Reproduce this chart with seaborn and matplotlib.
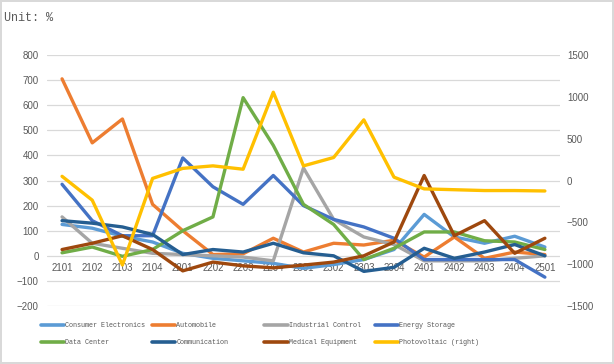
import pandas as pd
import seaborn as sns
import matplotlib.pyplot as plt
from matplotlib.lines import Line2D

# Data
quarters = ['2101', '2102', '2103', '2104', '2201', '2202', '2203', '2204', '2301',
            '2302', '2303', '2304', '2401', '2402', '2403', '2404', '2501']
consumer = [125, 110, 78, 55, 10, -10, -20, -30, -50, -35, -15, 25, 165, 75, 50, 78, 35]
automobile = [705, 450, 545, 205, 100, 5, 8, 70, 15, 50, 43, 62, -5, 75, -10, 15, 5]
industrial = [155, 50, 30, 10, 5, 0, -5, -20, 350, 145, 75, 45, -20, -20, -20, -10, 0]
energy = [285, 140, 80, 80, 390, 275, 205, 320, 200, 145, 115, 70, -15, -15, -15, -15, -85]
datacenter = [12, 35, -2, 25, 100, 155, 630, 440, 205, 125, -15, 30, 95, 95, 60, 55, 25]
communication = [140, 130, 115, 85, 5, 25, 15, 50, 12, 0, -62, -46, 30, -10, 15, 45, 0]
medical = [25, 50, 80, 25, -60, -25, -40, -48, -37, -25, 0, 55, 320, 80, 140, 10, 70]
photovoltaic = [50, -235, -1010, 25, 145, 175, 135, 1055, 175, 275, 725, 40, -100, -110, -120, -120, -125]

left_names = ['Consumer Electronics', 'Automobile', 'Industrial Control', 'Energy Storage',
              'Data Center', 'Communication', 'Medical Equipment']
left_values = [consumer, automobile, industrial, energy, datacenter, communication, medical]
colors = ['#5B9BD5', '#ED7D31', '#A5A5A5', '#4472C4', '#70AD47', '#255E91', '#9E480E']
pv_color = '#FFC000'

rows = []
for name, vals in zip(left_names, left_values):
    for i, v in enumerate(vals):
        rows.append({'idx': i, 'value': v, 'series': name})
df = pd.DataFrame(rows)
df_pv = pd.DataFrame({'idx': range(len(quarters)), 'value': photovoltaic})

sns.set_theme(style='white')
plt.rcParams['font.family'] = ['Liberation Sans', 'DejaVu Sans']
tick_color = '#595959'
mono = ['Liberation Mono', 'DejaVu Sans Mono']

fig = plt.figure(figsize=(6.14, 3.64), dpi=100)
fig.patch.set_edgecolor('#D9D9D9')
fig.patch.set_linewidth(1.5)
ax = fig.add_axes([0.0765, 0.1593, 0.8355, 0.6896])

sns.lineplot(data=df, x='idx', y='value', hue='series', hue_order=left_names,
             palette=dict(zip(left_names, colors)), linewidth=2.4, sort=False,
             legend=False, ax=ax)

ax.set_xlim(-0.5, len(quarters) - 0.5)
ax.set_ylim(-200, 800)
ax.set_yticks(range(-200, 801, 100))
ax.yaxis.grid(True, color='#D9D9D9', linewidth=0.9)
ax.set_axisbelow(True)
ax.set_xticks(range(len(quarters)))
ax.set_xticklabels(quarters)
ax.set_xlabel('')
ax.set_ylabel('')
for s in ['top', 'right', 'left']:
    ax.spines[s].set_visible(False)
ax.spines['bottom'].set_position(('data', 0))
ax.spines['bottom'].set_color('none')
ax.tick_params(axis='both', length=0, labelsize=7, colors=tick_color)
ax.tick_params(axis='y', pad=6)
ax.tick_params(axis='x', pad=5)

ax2 = ax.twinx()
sns.lineplot(data=df_pv, x='idx', y='value', color=pv_color, linewidth=2.4,
             sort=False, ax=ax2)
ax2.set_ylim(-1500, 1500)
ax2.set_yticks(range(-1500, 1501, 500))
ax2.grid(False)
ax2.set_ylabel('')
for s in ax2.spines.values():
    s.set_visible(False)
ax2.tick_params(axis='y', length=0, labelsize=7, colors=tick_color, pad=5)

fig.text(0.006, 0.95, 'Unit: %', va='center', ha='left', fontsize=8.5,
         color=tick_color, family=mono)

# Legend: 4 columns x 2 rows
names_all = left_names + ['Photovoltaic (right)']
colors_all = colors + [pv_color]
handles = [Line2D([0], [0], color=c, lw=2.6) for c in colors_all]
col_x = [0.066, 0.247, 0.430, 0.610]
for j in range(4):
    idxs = [j, j + 4]
    leg = fig.legend([handles[k] for k in idxs], [names_all[k] for k in idxs],
                     loc='center left', bbox_to_anchor=(col_x[j], 0.082),
                     frameon=False, prop={'family': mono, 'size': 4.9},
                     handlelength=3.5, handletextpad=0.1, labelspacing=1.45,
                     borderpad=0, borderaxespad=0)
    for t in leg.get_texts():
        t.set_color(tick_color)

fig.savefig('out.png', dpi=100, edgecolor=fig.get_edgecolor())
